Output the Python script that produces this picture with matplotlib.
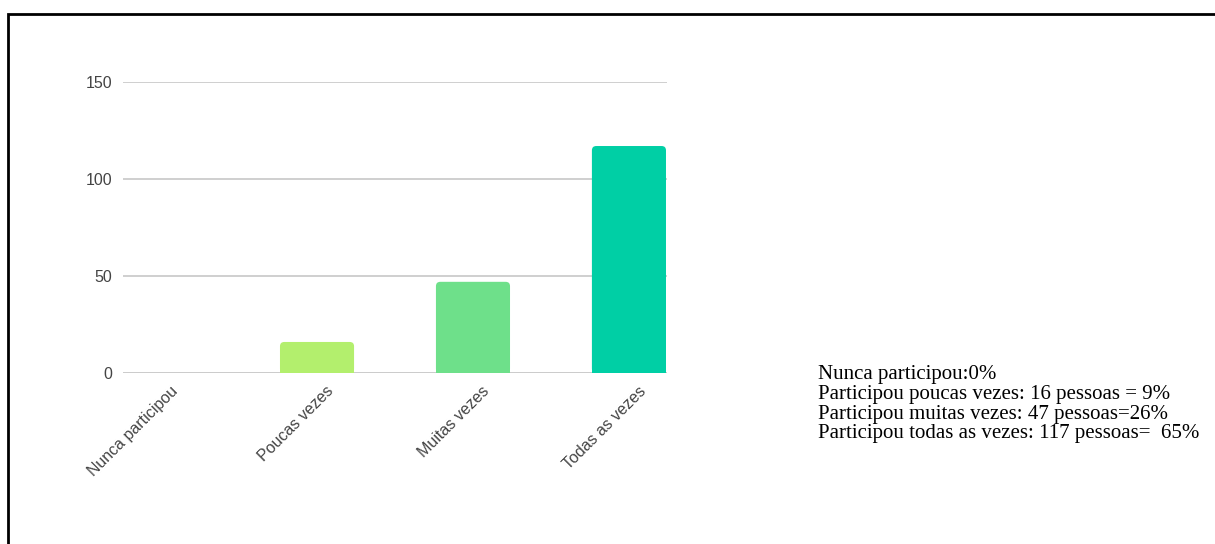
# bar chart of participation frequency with summary text on the right

import numpy as np
import matplotlib.pyplot as plt
import matplotlib.transforms as mtransforms
from matplotlib.patches import Rectangle, FancyBboxPatch

categories = ["Nunca participou", "Poucas vezes", "Muitas vezes", "Todas as vezes"]
counts = [0, 16, 47, 117]
colors = ["#b3ef6d", "#b3ef6d", "#6ee08a", "#00cfa5"]
yticks = [0, 50, 100, 150]
summary = [
    "Nunca participou:0%",
    "Participou poucas vezes: 16 pessoas = 9%",
    "Participou muitas vezes: 47 pessoas=26%",
    "Participou todas as vezes: 117 pessoas=  65%",
]

W, H = 1215, 544
fig = plt.figure(figsize=(W / 100, H / 100), dpi=100)
fig.patch.set_facecolor("white")

# black frame, open at right and bottom
fig.add_artist(Rectangle((8 / W, -0.1), 1.2, 1 - 14 / H + 0.1, transform=fig.transFigure,
                         fill=False, edgecolor="black", linewidth=2))

# axes placed in pixel coordinates
left, right, top, bottom = 123, 667, 82, 373
ax = fig.add_axes([left / W, 1 - bottom / H, (right - left) / W, (bottom - top) / H])

x = np.arange(len(categories))
width = 0.475
bars = ax.bar(x, [c / 2 for c in counts], width=width, color=colors, zorder=3)

ax.set_xlim(-0.244, 3.244)
ax.set_ylim(0, 150)

# rounded tops: full-height boxes on top of the square lower halves
px_per_x = (right - left) / 3.488
px_per_y = (bottom - top) / 150
for xi, c, col in zip(x, counts, colors):
    if c <= 0:
        continue
    ax.add_patch(FancyBboxPatch((xi - width / 2, 0), width, c,
                                boxstyle="round,pad=0,rounding_size=0.028",
                                mutation_aspect=px_per_x / px_per_y,
                                facecolor=col, edgecolor="none", zorder=3))

ax.set_yticks(yticks)
ax.yaxis.grid(True, color="#cccccc", linewidth=1.3, zorder=0)
ax.axhline(0, color="#cccccc", linewidth=1.3, zorder=2)
for s in ax.spines.values():
    s.set_visible(False)
ax.tick_params(length=0, labelsize=11.5, labelcolor="#444444")
ax.tick_params(axis="y", pad=8)
ax.tick_params(axis="x", pad=6)
for lbl in ax.get_yticklabels():
    lbl.set_fontfamily("Liberation Sans")
ax.set_xticks(x)
ax.set_xticklabels(categories, rotation=45, ha="right", va="top",
                   rotation_mode="anchor", fontfamily="Liberation Sans")
# nudge the slanted labels a little to the right
shift = mtransforms.ScaledTranslation(9 / 100, -2 / 100, fig.dpi_scale_trans)
for lbl in ax.get_xticklabels():
    lbl.set_transform(lbl.get_transform() + shift)

# summary lines
for i, line in enumerate(summary):
    fig.text(818 / W, 1 - (375 + i * 19.6) / H, line, fontfamily="Liberation Serif",
             fontsize=15, color="black", va="center", ha="left")

fig.savefig("out.png", dpi=100)
